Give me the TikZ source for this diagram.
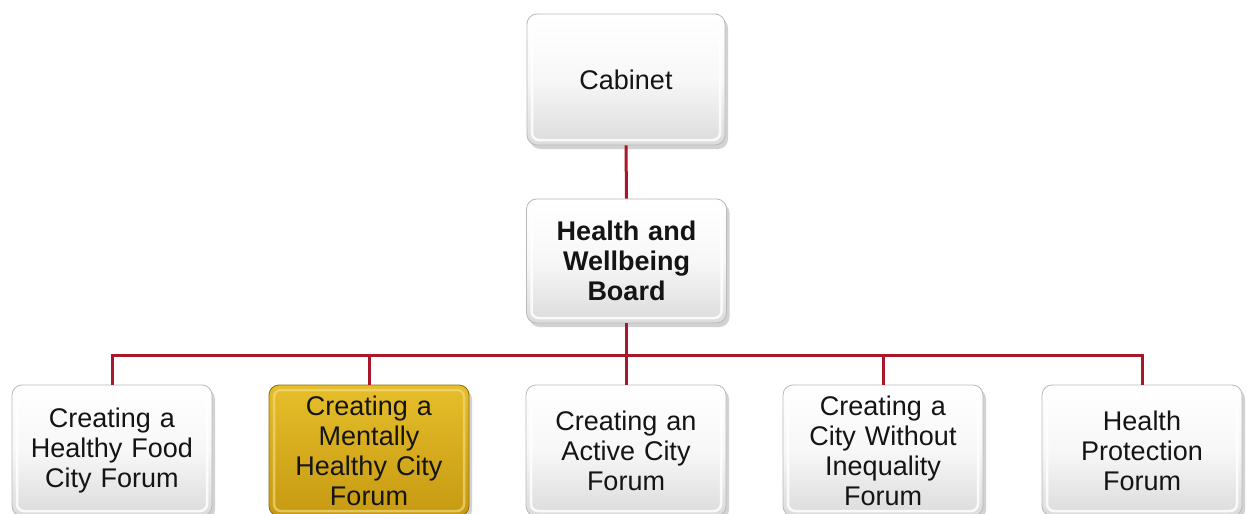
\documentclass[tikz,border=0pt]{standalone}
\usepackage{fontspec}
\setmainfont{Liberation Sans}
\usetikzlibrary{shadows}
\definecolor{linkred}{HTML}{A8182A}
\definecolor{txt}{HTML}{141414}
\definecolor{goldtop}{HTML}{E6BE2A}
\definecolor{goldbot}{HTML}{C69A12}
\tikzset{
  orgbox/.style={
    rectangle, rounded corners=10pt, draw=gray!55, line width=0.8pt,
    top color=white, bottom color=gray!28, middle color=gray!6,
    minimum width=200pt, minimum height=131pt, text width=190pt,
    align=center, text=txt, inner sep=0pt,
    font=\fontsize{27pt}{30pt}\selectfont,
    drop shadow={opacity=0.35, shadow xshift=3pt, shadow yshift=-4pt},
    path picture={
      \draw[white, opacity=0.85, line width=2.5pt, rounded corners=7pt]
        ([shift={(5pt,-5pt)}]path picture bounding box.north west) rectangle
        ([shift={(-5pt,5pt)}]path picture bounding box.south east);
    }
  },
  goldbox/.style={orgbox, draw=goldbot!70!black, top color=goldtop, middle color=goldtop!85!goldbot, bottom color=goldbot,
    path picture={
      \draw[goldtop!60!white, opacity=0.7, line width=2.5pt, rounded corners=7pt]
        ([shift={(5pt,-5pt)}]path picture bounding box.north west) rectangle
        ([shift={(-5pt,5pt)}]path picture bounding box.south east);
    }},
  link/.style={draw=linkred, line width=3pt}
}
\begin{document}
\begin{tikzpicture}[x=1pt, y=-1pt]
  \useasboundingbox (0,0) rectangle (1248,514);
  \clip (0,0) rectangle (1248,514);
  \fill[white] (0,0) rectangle (1248,514);

  % level of the horizontal bus that feeds the forums
  \coordinate (bus) at (626,355);

  % top of the hierarchy
  \node[orgbox, minimum width=198pt] (cab) at (626,79.5) {Cabinet};
  \node[orgbox, minimum height=124pt, font=\fontsize{27pt}{30pt}\selectfont\bfseries] (board) at (626.5,261) {Health and\\Wellbeing\\Board};

  % forums
  \node[orgbox]  (c1) at (112,450.5)  {Creating a\\Healthy Food\\City Forum};
  \node[goldbox] (c2) at (369,450.5)  {Creating a\\Mentally\\Healthy City\\Forum};
  \node[orgbox]  (c3) at (626,450.5)  {Creating an\\Active City\\Forum};
  \node[orgbox]  (c4) at (883,450.5)  {Creating a\\City Without\\Inequality\\Forum};
  \node[orgbox]  (c5) at (1142,450.5) {Health\\Protection\\Forum};

  % connectors
  \draw[link] (cab.south) -- (board.north);
  \foreach \c in {c1,c2,c3,c4,c5}{
    \draw[link] (board.south) -- (board.south |- bus) -| (\c.north);
  }
\end{tikzpicture}
\end{document}
